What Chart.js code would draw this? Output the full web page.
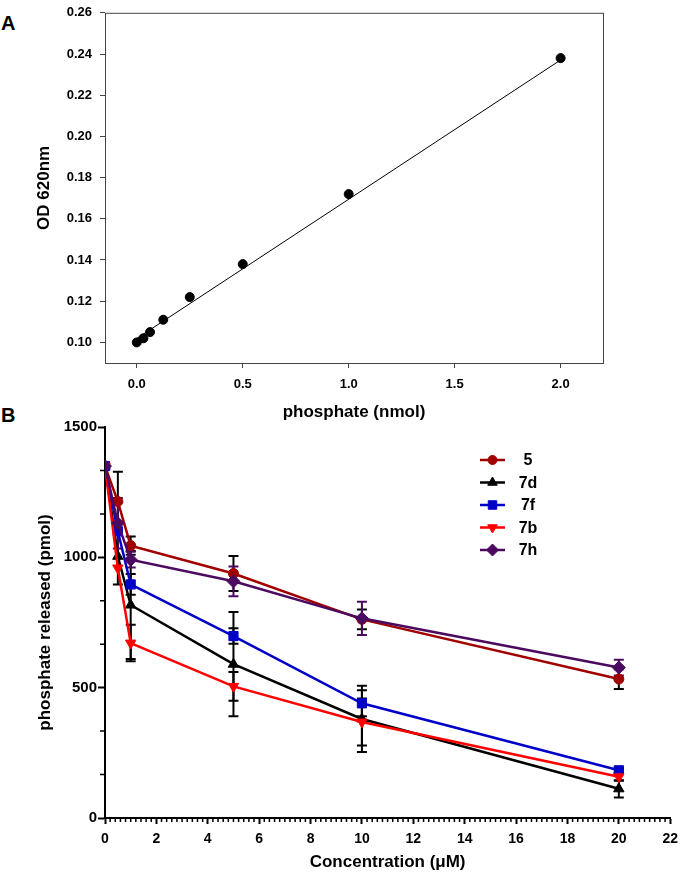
<!DOCTYPE html>
<html>
<head>
<meta charset="utf-8">
<script src="https://cdn.jsdelivr.net/npm/chart.js@4.4.1/dist/chart.umd.min.js"></script>
<style>
  html, body { margin: 0; padding: 0; background: #fff; }
  body { width: 685px; height: 872px; position: relative; overflow: hidden; font-family: "Liberation Sans", Arial, sans-serif; }
  .panel { position: absolute; left: 0; width: 685px; }
  #boxA { top: -3px; height: 428px; }
  #boxB { top: 417px; height: 455px; }
  .letter { position: absolute; left: 1px; font-weight: bold; font-size: 20px; line-height: 20px; }
</style>
</head>
<body>
<div class="letter" style="top:13px">A</div>
<div class="letter" style="top:405px">B</div>
<div class="panel" id="boxA"><canvas id="chartA"></canvas></div>
<div class="panel" id="boxB"><canvas id="chartB"></canvas></div>
<script>
// ---- panel A: phosphate standard curve ----
const stdX  = [0, 0.03125, 0.0625, 0.125, 0.25, 0.5, 1.0, 2.0];
const stdOD = [0.100, 0.102, 0.105, 0.111, 0.122, 0.138, 0.172, 0.238];
const fitX  = [0, 2.0];          // ends of the regression line as drawn
const fitOD = [0.1019, 0.2371];
const xTicksA = [0, 0.5, 1.0, 1.5, 2.0];
const yTicksA = [0.10, 0.12, 0.14, 0.16, 0.18, 0.20, 0.22, 0.24, 0.26];

// ---- panel B: phosphate released vs concentration ----
const conc = [0, 0.5, 1, 5, 10, 20];
const names = ['5', '7d', '7f', '7b', '7h'];
const val5  = [1350, 1214, 1045, 938, 762, 533];
const val7d = [1350, 1004, 817, 590, 380, 112];
const val7f = [1350, 1100, 896, 698, 440, 183];
const val7b = [1350, 959, 671, 505, 368, 158];
const val7h = [1350, 1131, 991, 908, 766, 577];
// error bars (single number = +/-, pair = [down, up])
const err5  = [0, 0, 35, 67, 38, 38];
const err7d = [0, [108, 324], 207, 200, 127, 33];
const err7f = [0, 0, 40, 30, 50, 10];
const err7b = [0, 0, 70, 55, 90, 15];
const err7h = [0, 97, 30, 57, 64, 30];
const xTicksB = [0, 2, 4, 6, 8, 10, 12, 14, 16, 18, 20, 22];
const yTicksB = [0, 500, 1000, 1500];

Chart.defaults.font.family = "'Liberation Sans', Arial, sans-serif";
Chart.defaults.color = '#000';

function pts(xs, ys) {
  return xs.map((x, i) => ({x: x, y: ys[i]}));
}

// box round the plot area of panel A
const frameBox = {
  id: 'frameBox',
  afterDraw(chart) {
    const {ctx, chartArea: a} = chart;
    ctx.save();
    ctx.strokeStyle = '#444';
    ctx.lineWidth = 1;
    ctx.strokeRect(a.left + 0.5, a.top + 0.5, a.right - a.left, a.bottom - a.top);
    ctx.restore();
  }
};

const errorBars = {
  id: 'errorBars',
  beforeDatasetsDraw(chart) {
    const {ctx, scales: {x, y}} = chart;
    ctx.save();
    ctx.lineWidth = 2;
    chart.data.datasets.forEach(ds => {
      if (!ds.errors) return;
      ctx.strokeStyle = ds.errorColor;
      ds.data.forEach((p, i) => {
        const e = ds.errors[i];
        if (!e) return;
        const [lo, hi] = Array.isArray(e) ? e : [e, e];
        const px = x.getPixelForValue(p.x);
        const yt = y.getPixelForValue(p.y + hi);
        const yb = y.getPixelForValue(p.y - lo);
        ctx.beginPath();
        ctx.moveTo(px, yt); ctx.lineTo(px, yb);
        ctx.moveTo(px - 5, yt); ctx.lineTo(px + 5, yt);
        ctx.moveTo(px - 5, yb); ctx.lineTo(px + 5, yb);
        ctx.stroke();
      });
    });
    ctx.restore();
  }
};

const minorTicks = {
  id: 'minorTicks',
  afterDraw(chart, args, opts) {
    const {ctx, chartArea: a, scales: {x, y}} = chart;
    ctx.save();
    ctx.strokeStyle = '#000';
    ctx.lineWidth = 1.5;
    ctx.beginPath();
    const nx = Math.round((x.max - x.min) / opts.xStep);
    for (let i = 0; i <= nx; i++) {
      const v = x.min + i * opts.xStep;
      if (Math.abs(v / opts.xMajor - Math.round(v / opts.xMajor)) < 1e-6) continue;
      const px = x.getPixelForValue(v);
      ctx.moveTo(px, a.bottom); ctx.lineTo(px, a.bottom + opts.len);
    }
    const ny = Math.round((y.max - y.min) / opts.yStep);
    for (let i = 0; i <= ny; i++) {
      const v = y.min + i * opts.yStep;
      if (Math.abs(v / opts.yMajor - Math.round(v / opts.yMajor)) < 1e-6) continue;
      const py = y.getPixelForValue(v);
      ctx.moveTo(a.left, py); ctx.lineTo(a.left - opts.len - 1, py);
    }
    ctx.stroke();
    ctx.restore();
  }
};

const seriesLegend = {
  id: 'seriesLegend',
  afterDraw(chart, args, opts) {
    const {ctx, chartArea: a} = chart;
    const x0 = a.left + opts.left;
    const y0 = a.top + opts.top;
    ctx.save();
    chart.data.datasets.forEach((ds, i) => {
      const cy = y0 + i * opts.step;
      ctx.strokeStyle = ds.borderColor;
      ctx.fillStyle = ds.backgroundColor;
      ctx.lineWidth = 2.5;
      ctx.beginPath();
      ctx.moveTo(x0, cy); ctx.lineTo(x0 + 25, cy);
      ctx.stroke();
      ctx.lineWidth = 1;
      Chart.helpers.drawPoint(ctx, {
        pointStyle: ds.pointStyle,
        radius: ds.pointRadius - 0.5,
        rotation: ds.pointRotation || 0,
        borderWidth: 1
      }, x0 + 12.5, cy);
      ctx.fillStyle = '#000';
      ctx.font = "bold 16px 'Liberation Sans', Arial, sans-serif";
      ctx.textAlign = 'center';
      ctx.textBaseline = 'middle';
      ctx.fillText(ds.label, x0 + 48, cy + 1);
    });
    ctx.restore();
  }
};

// ---------- chart A ----------
new Chart(document.getElementById('chartA'), {
  type: 'scatter',
  data: {
    datasets: [
      {
        label: 'standards',
        data: pts(stdX, stdOD),
        pointRadius: 4.5,
        pointBackgroundColor: '#000',
        pointBorderColor: '#000',
        showLine: false,
        order: 0
      },
      {
        label: 'fit',
        data: pts(fitX, fitOD),
        showLine: true,
        borderColor: '#000',
        borderWidth: 1,
        pointRadius: 0,
        order: 1
      }
    ]
  },
  options: {
    responsive: true,
    maintainAspectRatio: false,
    animation: false,
    layout: { padding: { top: 8, right: 82, left: 0, bottom: 0 } },
    plugins: { legend: { display: false }, tooltip: { enabled: false } },
    scales: {
      x: {
        type: 'linear',
        min: -0.15,
        max: 2.2,
        afterBuildTicks: s => { s.ticks = xTicksA.map(v => ({value: v})); },
        afterFit: s => { s.height = 62; },
        grid: { drawOnChartArea: false, tickLength: 5, tickColor: '#444' },
        border: { display: false },
        ticks: { padding: 9, font: { size: 13, weight: 'bold' }, callback: v => v.toFixed(1) },
        title: { display: true, text: 'phosphate (nmol)', font: { size: 17, weight: 'bold', lineHeight: 1 }, padding: { top: 0, bottom: 4.5 } }
      },
      y: {
        min: 0.09,
        max: 0.26,
        afterBuildTicks: s => { s.ticks = yTicksA.map(v => ({value: v})); },
        afterFit: s => { s.width = 105; },
        grid: { drawOnChartArea: false, tickLength: 5, tickColor: '#444' },
        border: { display: false },
        ticks: { padding: 8, font: { size: 13, weight: 'bold' }, callback: v => v.toFixed(2) },
        title: { display: true, text: 'OD 620nm', font: { size: 17, weight: 'bold', lineHeight: 1 }, padding: { top: 35.5, bottom: 0 } }
      }
    }
  },
  plugins: [frameBox]
});

// ---------- chart B ----------
const styleB = [
  { color: '#a00000', err: '#000',    point: 'circle',   radius: 5,   rot: 0 },
  { color: '#000000', err: '#000',    point: 'triangle', radius: 6,   rot: 0 },
  { color: '#0000c8', err: '#000',    point: 'rect',     radius: 6.5, rot: 0 },
  { color: '#ff0000', err: '#000',    point: 'triangle', radius: 6,   rot: 180 },
  { color: '#4b0a5f', err: '#4b0a5f', point: 'rectRot',  radius: 6.5, rot: 0 }
];
const valuesB = [val5, val7d, val7f, val7b, val7h];
const errorsB = [err5, err7d, err7f, err7b, err7h];

new Chart(document.getElementById('chartB'), {
  type: 'line',
  data: {
    datasets: names.map((n, i) => ({
      label: n,
      data: pts(conc, valuesB[i]),
      errors: errorsB[i],
      errorColor: styleB[i].err,
      borderColor: styleB[i].color,
      backgroundColor: styleB[i].color,
      borderWidth: 2.5,
      pointStyle: styleB[i].point,
      pointRadius: styleB[i].radius,
      pointRotation: styleB[i].rot,
      pointBorderWidth: 1,
      tension: 0,
      order: 5 - i
    }))
  },
  options: {
    responsive: true,
    maintainAspectRatio: false,
    animation: false,
    layout: { padding: { top: 8, right: 8, left: 0, bottom: 0 } },
    plugins: {
      legend: { display: false },
      tooltip: { enabled: false },
      minorTicks: { xStep: 0.2, xMajor: 2, yStep: 500 / 3, yMajor: 500, len: 4 },
      seriesLegend: { left: 375, top: 33, step: 22.5 }
    },
    scales: {
      x: {
        type: 'linear',
        min: 0,
        max: 22,
        afterBuildTicks: s => { s.ticks = xTicksB.map(v => ({value: v})); },
        afterFit: s => { s.height = 54; },
        grid: { drawOnChartArea: false, tickLength: 6, tickColor: '#000', tickWidth: 2 },
        border: { display: true, color: '#000', width: 2 },
        ticks: { padding: 7, font: { size: 14, weight: 'bold' }, callback: v => String(v) },
        title: { display: true, text: 'Concentration (\u03bcM)', font: { size: 17, weight: 'bold', lineHeight: 1 }, padding: { top: 0, bottom: 1 } }
      },
      y: {
        min: 0,
        max: 1500,
        afterBuildTicks: s => { s.ticks = yTicksB.map(v => ({value: v})); },
        afterFit: s => { s.width = 105; },
        grid: { drawOnChartArea: false, tickLength: 7, tickColor: '#000', tickWidth: 2 },
        border: { display: true, color: '#000', width: 2 },
        ticks: { padding: 1, font: { size: 15, weight: 'bold' }, callback: v => String(v) },
        title: { display: true, text: 'phosphate released (pmol)', font: { size: 17, weight: 'bold', lineHeight: 1 }, padding: { top: 36.5, bottom: 0 } }
      }
    }
  },
  plugins: [errorBars, minorTicks, seriesLegend]
});
</script>
</body>
</html>
